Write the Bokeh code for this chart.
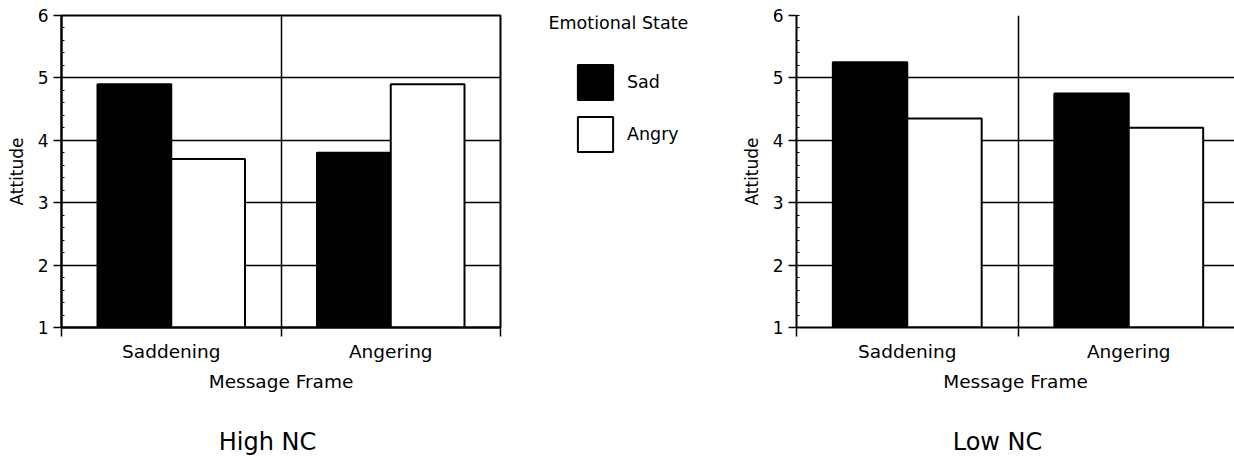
import numpy as np
from bokeh.plotting import figure
from bokeh.models import (ColumnDataSource, Range1d, FixedTicker, Legend,
                          LegendItem, Label)
from bokeh.layouts import row, column
from bokeh.transform import dodge
from bokeh.embed import file_html
from bokeh.resources import INLINE

# ---- data ----
frames = ["Saddening", "Angering"]
states = ["Sad", "Angry"]
high_sad = [4.9, 3.8]
high_angry = [3.7, 4.9]
low_sad = [5.25, 4.75]
low_angry = [4.35, 4.2]
y_ticks = [1, 2, 3, 4, 5, 6]
panel_titles = ["High NC", "Low NC"]
x_label = "Message Frame"
y_label = "Attitude"
legend_title = "Emotional State"

FONT = "DejaVu Sans"
FRAME_H = 312
FIG_H = 420          # height of the chart row
BOT_H = 36           # height of the title strip below
TOP = 15
BOTTOM = FIG_H - TOP - FRAME_H


def make_panel(sad, angry, width, bl, br, x_end, outline):
    p = figure(width=width, height=FIG_H, output_backend="svg",
               toolbar_location=None, x_range=Range1d(0, x_end),
               y_range=Range1d(1, 6), min_border_left=bl,
               min_border_right=br, min_border_top=TOP,
               min_border_bottom=BOTTOM)
    p.background_fill_color = "white"
    p.border_fill_color = "white"
    if outline:
        p.outline_line_color = "black"
        p.outline_line_width = 2
    else:
        p.outline_line_color = None

    centers = [i + 0.5 for i in range(len(frames))]
    src = ColumnDataSource(dict(x=centers, sad=sad, angry=angry))
    p.vbar(x=dodge("x", -0.168), top="sad", bottom=1, width=0.336,
           source=src, fill_color="black", line_color="black", line_width=2)
    p.vbar(x=dodge("x", 0.168), top="angry", bottom=1, width=0.336,
           source=src, fill_color="white", line_color="black", line_width=2)

    # x axis: labels at category centres, ticks at category boundaries
    p.xaxis.ticker = FixedTicker(ticks=centers,
                                 minor_ticks=list(range(len(frames) + 1)))
    p.xaxis.major_label_overrides = {c: f for c, f in zip(centers, frames)}
    p.xaxis.major_tick_in = 0
    p.xaxis.major_tick_out = 0
    p.xaxis.minor_tick_in = 0
    p.xaxis.minor_tick_out = 9
    p.xaxis.minor_tick_line_width = 1.5
    p.xaxis.minor_tick_line_color = "black"
    p.xaxis.axis_line_width = 2
    p.xaxis.axis_line_color = "black"
    p.xaxis.major_label_text_font = FONT
    p.xaxis.major_label_text_font_size = "18.5px"
    p.xaxis.major_label_text_color = "black"
    p.xaxis.major_label_standoff = 4
    p.xaxis.axis_label = x_label
    p.xaxis.axis_label_text_font = FONT
    p.xaxis.axis_label_text_font_size = "18.5px"
    p.xaxis.axis_label_text_font_style = "normal"
    p.xaxis.axis_label_text_color = "black"
    p.xaxis.axis_label_standoff = 6

    minor = [round(v, 2) for v in np.arange(1, 6.01, 0.2)]
    p.yaxis.ticker = FixedTicker(ticks=y_ticks, minor_ticks=minor)
    p.yaxis.major_tick_in = 0
    p.yaxis.major_tick_out = 8
    p.yaxis.major_tick_line_width = 1.5
    p.yaxis.minor_tick_in = 3
    p.yaxis.minor_tick_out = 0
    p.yaxis.minor_tick_line_color = "black"
    p.yaxis.axis_line_width = 2
    p.yaxis.axis_line_color = "black"
    p.yaxis.major_label_text_font = FONT
    p.yaxis.major_label_text_font_size = "17px"
    p.yaxis.major_label_text_color = "black"
    p.yaxis.major_label_standoff = 5
    p.yaxis.axis_label = y_label
    p.yaxis.axis_label_text_font = FONT
    p.yaxis.axis_label_text_font_size = "17px"
    p.yaxis.axis_label_text_font_style = "normal"
    p.yaxis.axis_label_text_color = "black"
    p.yaxis.axis_label_standoff = 8

    p.xgrid.ticker = FixedTicker(ticks=[1])
    p.xgrid.grid_line_color = "black"
    p.xgrid.grid_line_width = 1.5
    p.ygrid.ticker = FixedTicker(ticks=y_ticks[1:])
    p.ygrid.grid_line_color = "black"
    p.ygrid.grid_line_width = 1.5
    return p


left = make_panel(high_sad, high_angry, 502, 61, 2, 2.0, True)
right = make_panel(low_sad, low_angry, 504, 66, 0, 438 / 221.5, False)


def blank(width, height, bl=0, bt=0, bb=0):
    f = figure(width=width, height=height, output_backend="svg",
               toolbar_location=None,
               x_range=Range1d(bl, width),
               y_range=Range1d(height - bb, bt),
               min_border_left=bl, min_border_right=0,
               min_border_top=bt, min_border_bottom=bb,
               x_axis_location=None, y_axis_location=None)
    f.grid.visible = False
    f.outline_line_color = None
    f.background_fill_color = "white"
    f.border_fill_color = "white"
    return f


# ---- legend panel between the two charts (pixel coordinates) ----
LW = 228
MARGIN = 45
mid = blank(LW, FIG_H, bl=26, bt=TOP, bb=BOTTOM)
proxy = ColumnDataSource(dict(x=[float("nan")], top=[float("nan")]))
g_sad = mid.vbar(x="x", top="top", bottom=0, width=0, source=proxy,
                 fill_color="black", line_color="black", line_width=2)
g_ang = mid.vbar(x="x", top="top", bottom=0, width=0, source=proxy,
                 fill_color="white", line_color="black", line_width=2)
lg = Legend(items=[LegendItem(label=states[0], renderers=[g_sad]),
                   LegendItem(label=states[1], renderers=[g_ang])],
            location="top_left", margin=MARGIN, glyph_width=44,
            glyph_height=44, spacing=8, padding=0, label_standoff=10,
            border_line_color=None, background_fill_alpha=0,
            label_text_font=FONT, label_text_font_size="17.5px",
            label_text_color="black")
mid.add_layout(lg, "center")
mid.add_layout(Label(x=46, y=22, text=legend_title, text_font=FONT,
                     text_font_size="17.5px", text_align="left",
                     text_baseline="alphabetic", text_color="black"))

# ---- strip with the panel titles ----
bottom = blank(1234, BOT_H)
for t, cx in zip(panel_titles, [267, 997]):
    bottom.add_layout(Label(x=cx, y=21, text=t, text_font=FONT,
                            text_font_size="24px", text_align="center",
                            text_baseline="alphabetic", text_color="black"))

layout = column(row(left, mid, right), bottom)
open("out.html", "w").write(file_html(layout, INLINE))
